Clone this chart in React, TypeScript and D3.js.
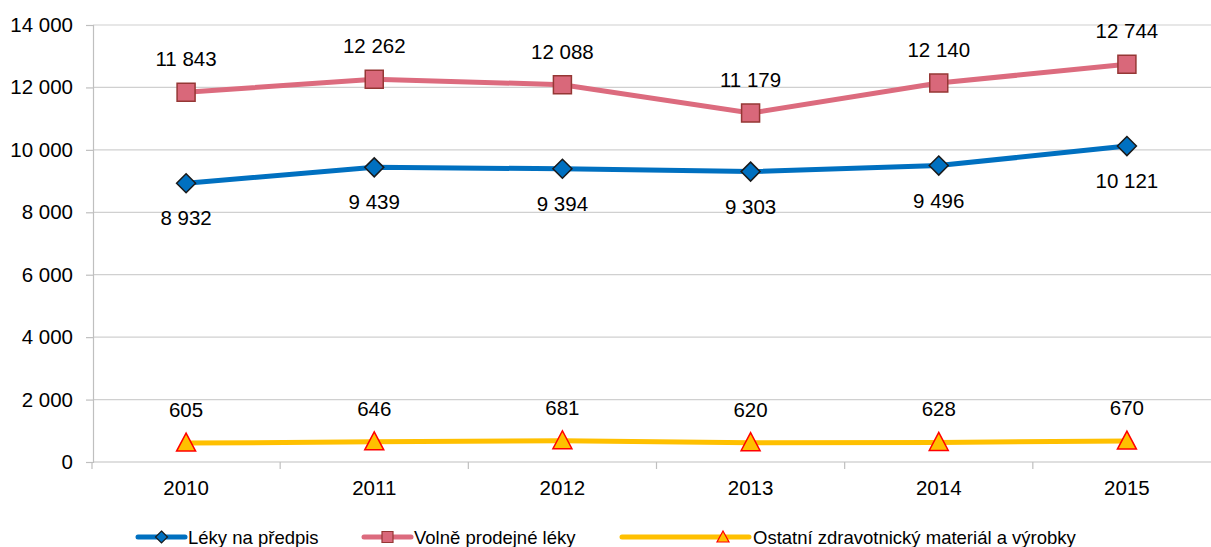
import { useEffect, useRef } from 'react';
import * as d3 from 'd3';

const years = ['2010', '2011', '2012', '2013', '2014', '2015'];
const predpis = [8932, 9439, 9394, 9303, 9496, 10121];
const volne = [11843, 12262, 12088, 11179, 12140, 12744];
const ostatni = [605, 646, 681, 620, 628, 670];
const yTicks = [0, 2000, 4000, 6000, 8000, 10000, 12000, 14000];

const fmt = (v: number) => d3.format(',')(v).replace(/,/g, ' ');

const series = [
  { name: 'Léky na předpis', values: predpis, color: '#0070C0', marker: 'diamond', fill: '#0070C0', stroke: '#1a1a1a', labelDy: 42 },
  { name: 'Volně prodejné léky', values: volne, color: '#DC6B7E', marker: 'square', fill: '#D9687A', stroke: '#953735', labelDy: -26 },
  { name: 'Ostatní zdravotnický materiál a výrobky', values: ostatni, color: '#FFC000', marker: 'triangle', fill: '#FFC000', stroke: '#FF0000', labelDy: -26 },
];

const App = () => {
  const svgRef = useRef<SVGSVGElement>(null);

  useEffect(() => {
    const svg = d3.select(svgRef.current);
    svg.selectAll('*').remove();
    const font = 'Liberation Sans, Arial, sans-serif';
    const fs = 20.5;

    const x = d3.scaleBand().domain(years).range([92, 1221]);
    const y = d3.scaleLinear().domain([0, 14000]).range([462, 25]);
    const cx = (d: string) => (x(d) as number) + x.bandwidth() / 2;

    // gridlines
    svg.append('g').selectAll('line').data(yTicks.slice(1)).enter().append('line')
      .attr('x1', 93).attr('x2', 1221)
      .attr('y1', d => y(d)).attr('y2', d => y(d))
      .attr('stroke', '#D0D0D0').attr('stroke-width', 1.2);

    // y axis
    const yAxis = svg.append('g').attr('transform', 'translate(93,0)')
      .call(d3.axisLeft(y).tickValues(yTicks).tickSize(7).tickPadding(13).tickFormat(d => fmt(d as number)));
    yAxis.select('.domain').attr('stroke', '#BFBFBF').attr('stroke-width', 1.2);
    yAxis.selectAll('.tick line').attr('stroke', '#BFBFBF').attr('stroke-width', 1.2);
    yAxis.selectAll('text').attr('font-size', fs).attr('font-family', font).attr('fill', '#000');

    // x axis
    svg.append('line').attr('x1', 93).attr('x2', 1221).attr('y1', y(0)).attr('y2', y(0))
      .attr('stroke', '#BFBFBF').attr('stroke-width', 1.2);
    svg.append('g').selectAll('line').data(years).enter().append('line')
      .attr('x1', d => x(d) as number).attr('x2', d => x(d) as number)
      .attr('y1', y(0)).attr('y2', y(0) + 7)
      .attr('stroke', '#BFBFBF').attr('stroke-width', 1.2);
    svg.append('g').selectAll('text').data(years).enter().append('text')
      .attr('x', d => cx(d)).attr('y', y(0) + 33)
      .attr('text-anchor', 'middle').attr('font-size', fs).attr('font-family', font)
      .text(d => d);

    const markerPath = (m: string) => {
      if (m === 'diamond') return 'M0,-9.5L9.5,0L0,9.5L-9.5,0Z';
      if (m === 'square') return 'M-9,-9L9,-9L9,9L-9,9Z';
      return 'M0,-10L9.5,8L-9.5,8Z';
    };
    const legendMarker = (m: string) => {
      if (m === 'diamond') return 'M0,-6L6,0L0,6L-6,0Z';
      if (m === 'square') return 'M-5.5,-5.5L5.5,-5.5L5.5,5.5L-5.5,5.5Z';
      return 'M0,-6L6,5L-6,5Z';
    };

    const line = d3.line<number>().x((_, i) => cx(years[i])).y(d => y(d));

    series.forEach(s => {
      svg.append('path').attr('d', line(s.values) as string)
        .attr('fill', 'none').attr('stroke', s.color).attr('stroke-width', 5);
      svg.append('g').selectAll('path').data(s.values).enter().append('path')
        .attr('transform', (d, i) => `translate(${cx(years[i])},${y(d)})`)
        .attr('d', markerPath(s.marker))
        .attr('fill', s.fill).attr('stroke', s.stroke).attr('stroke-width', 1.5);
      svg.append('g').selectAll('text').data(s.values).enter().append('text')
        .attr('x', (_, i) => cx(years[i]))
        .attr('y', d => y(d) + s.labelDy)
        .attr('text-anchor', 'middle').attr('font-size', fs).attr('font-family', font)
        .text(d => fmt(d));
    });

    // legend
    const lx = [[138, 185, 188], [364, 411, 414], [622, 749, 753]];
    series.forEach((s, i) => {
      const [a, b, t] = lx[i];
      const g = svg.append('g');
      g.append('line').attr('x1', a).attr('x2', b).attr('y1', 537).attr('y2', 537)
        .attr('stroke', s.color).attr('stroke-width', 5).attr('stroke-linecap', 'round');
      const mx = s.marker === 'triangle' ? b - 26 : (a + b) / 2;
      g.append('path').attr('transform', `translate(${mx},537)`)
        .attr('d', legendMarker(s.marker))
        .attr('fill', s.fill).attr('stroke', s.stroke).attr('stroke-width', 1.2);
      g.append('text').attr('x', t).attr('y', 544).attr('font-size', 18.5).attr('font-family', font)
        .text(s.name);
    });
  }, []);

  return (
    <svg ref={svgRef} width={1211} height={547} style={{ position: 'absolute', left: 0, top: 0, background: '#fff' }} />
  );
};

export default App;
